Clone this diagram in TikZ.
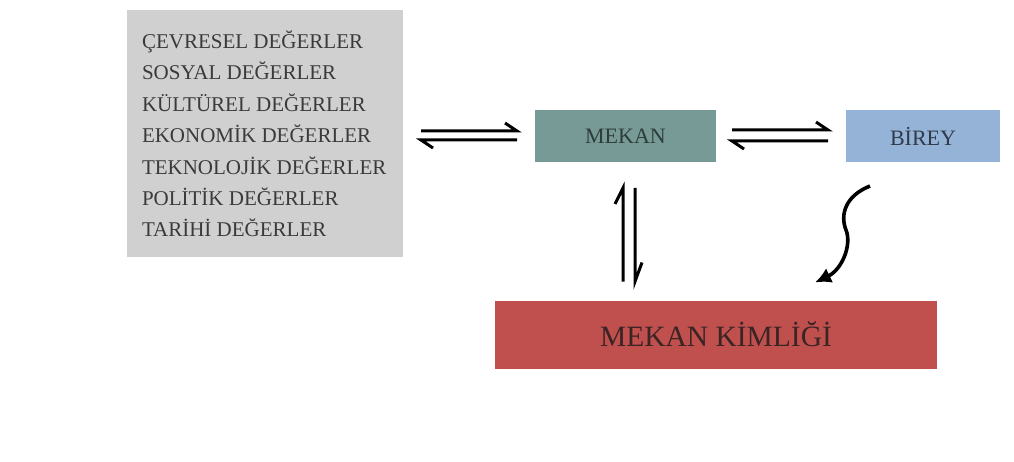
\documentclass[tikz,border=0pt]{standalone}
\usepackage{fontspec}
\setmainfont{Liberation Serif}
\usetikzlibrary{calc,arrows.meta}
\definecolor{boxgray}{HTML}{D0D0D0}
\definecolor{mekanc}{HTML}{789A96}
\definecolor{bireyc}{HTML}{95B3D7}
\definecolor{kimlikc}{HTML}{C0504D}
\definecolor{valtxt}{HTML}{3A3A3A}
\definecolor{mektxt}{HTML}{2C3D3B}
\definecolor{birtxt}{HTML}{2F3A4A}
\definecolor{kimtxt}{HTML}{3A2424}
\begin{document}
\begin{tikzpicture}[x=1pt,y=-1pt,
  box/.style={inner sep=0pt, outer sep=0pt, draw=none},
  valtext/.style={inner sep=0pt, outer sep=0pt, text=valtxt, font=\fontsize{21}{25}\selectfont},
  harp/.style={line width=3pt, line cap=butt, line join=miter},
  sarrow/.style={line width=3.6pt, -{Latex[length=16pt,width=16pt]}}]
\useasboundingbox (0,0) rectangle (1014,462);
\fill[white] (0,0) rectangle (1014,462);
% boxes
\node[box, fill=boxgray, minimum width=276pt, minimum height=247pt, anchor=north west] (values) at (127,10) {};
\foreach \t [count=\i] in {ÇEVRESEL DEĞERLER, SOSYAL DEĞERLER, KÜLTÜREL DEĞERLER, EKONOMİK DEĞERLER, TEKNOLOJİK DEĞERLER, POLİTİK DEĞERLER, TARİHİ DEĞERLER}
  \node[valtext, anchor=base west] (v\i) at (142,{48.5+31.4*(\i-1)}) {\t};
\node[box, fill=mekanc, minimum width=181pt, minimum height=52pt, text=mektxt, font=\fontsize{22}{26}\selectfont] (mekan) at (625.5,136) {MEKAN};
\node[box, fill=bireyc, minimum width=154pt, minimum height=52pt, text=birtxt, font=\fontsize{22}{26}\selectfont] (birey) at (923,136) {BİREY};
\node[box, fill=kimlikc, minimum width=442pt, minimum height=68pt, text=kimtxt, font=\fontsize{29.5}{34}\selectfont] (kimlik) at (716,334.5) {MEKAN KİMLİĞİ};
% harpoons values <-> mekan
\draw[harp] ($(values.east|-mekan.west)+(18,-5)$) -- ($(mekan.west)+(-18,-5)$) -- ++(-12,-8);
\draw[harp] ($(mekan.west)+(-18,4)$) -- ($(values.east|-mekan.west)+(18,4)$) -- ++(12,8);
% harpoons mekan <-> birey
\draw[harp] ($(mekan.east)+(16,-6)$) -- ($(birey.west)+(-18,-6)$) -- ++(-12,-8);
\draw[harp] ($(birey.west)+(-18,5)$) -- ($(mekan.east)+(16,5)$) -- ++(12,8);
% harpoons mekan <-> kimlik
\draw[harp] ($(mekan.south|-kimlik.north)+(-2.5,-19)$) -- ($(mekan.south)+(-2.5,26)$) -- ++(-8,16);
\draw[harp] ($(mekan.south)+(9.5,26)$) -- ($(mekan.south|-kimlik.north)+(9.5,-19)$) -- ++(7,-19);
% s-curve birey -> kimlik
\coordinate (sbend) at ($(birey.south)+(-77,68)$);
\draw[sarrow] ($(birey.south)+(-53,24)$) .. controls +(-25,10) and +(-6,-15) .. (sbend) .. controls +(6,15) and +(27,-13) .. ($(kimlik.north)+(99,-18)$);
\end{tikzpicture}
\end{document}
